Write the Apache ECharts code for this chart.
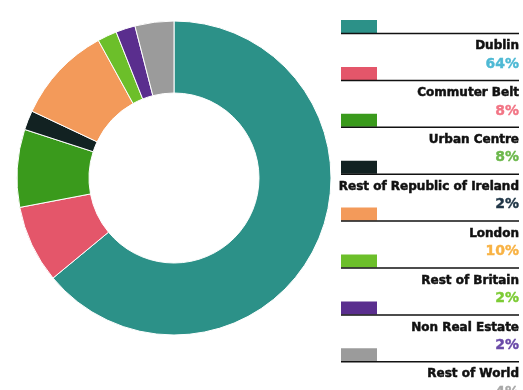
<!DOCTYPE html>
<html>
<head>
<meta charset="utf-8">
<style>
  html, body { margin: 0; padding: 0; background: #ffffff; }
  #chart { width: 523px; height: 390px; }
</style>
<script src="https://cdn.jsdelivr.net/npm/echarts@6/dist/echarts.min.js"></script>
</head>
<body>
<div id="chart"></div>
<script>
// Portfolio split by location
const categories = ['Dublin', 'Commuter Belt', 'Urban Centre', 'Rest of Republic of Ireland',
  'London', 'Rest of Britain', 'Non Real Estate', 'Rest of World'];
const shares = [64, 8, 8, 2, 10, 2, 2, 4];
const sliceColors = ['#2c9188', '#e4566a', '#3a9a1c', '#122222', '#f39a5a', '#6cbf2a', '#5a2e8e', '#9b9b9b'];
const pctColors = ['#4eb9d4', '#f27585', '#6cb84c', '#1f3546', '#f8b244', '#7ccb34', '#6a4aa8', '#a8a8a8'];

const chart = echarts.init(document.getElementById('chart'), null, { renderer: 'canvas' });

// Legend block on the right: swatch, rule, name, percentage
const legendLeft = 341, legendRight = 519, firstTop = 20, step = 46.9;
const graphics = [];
categories.forEach((name, i) => {
  const top = firstTop + i * step;
  graphics.push({
    type: 'rect', left: legendLeft, top: top,
    shape: { width: 36, height: 13 },
    style: { fill: sliceColors[i] }
  });
  graphics.push({
    type: 'line',
    shape: { x1: legendLeft, y1: top + 13.5, x2: legendRight, y2: top + 13.5 },
    style: { stroke: '#111', lineWidth: 1.5 }
  });
  graphics.push({
    type: 'text',
    style: {
      x: legendRight, y: top + 26, text: name,
      align: 'right', verticalAlign: 'middle',
      font: 'bold 12px "DejaVu Sans"', fill: '#111',
      stroke: '#111', lineWidth: 0.5
    }
  });
  graphics.push({
    type: 'text',
    style: {
      x: legendRight, y: top + 44, text: shares[i] + '%',
      align: 'right', verticalAlign: 'middle',
      font: 'bold 14px "DejaVu Sans"', fill: pctColors[i],
      stroke: pctColors[i], lineWidth: 0.4
    }
  });
});

chart.setOption({
  animation: false,
  backgroundColor: '#ffffff',
  color: sliceColors,
  graphic: graphics,
  series: [{
    type: 'pie',
    center: [174, 178],
    radius: [85, 157],
    startAngle: 90,
    clockwise: true,
    label: { show: false },
    labelLine: { show: false },
    itemStyle: { borderColor: '#ffffff', borderWidth: 1 },
    data: categories.map((name, i) => ({ name: name, value: shares[i] }))
  }]
});
</script>
</body>
</html>
